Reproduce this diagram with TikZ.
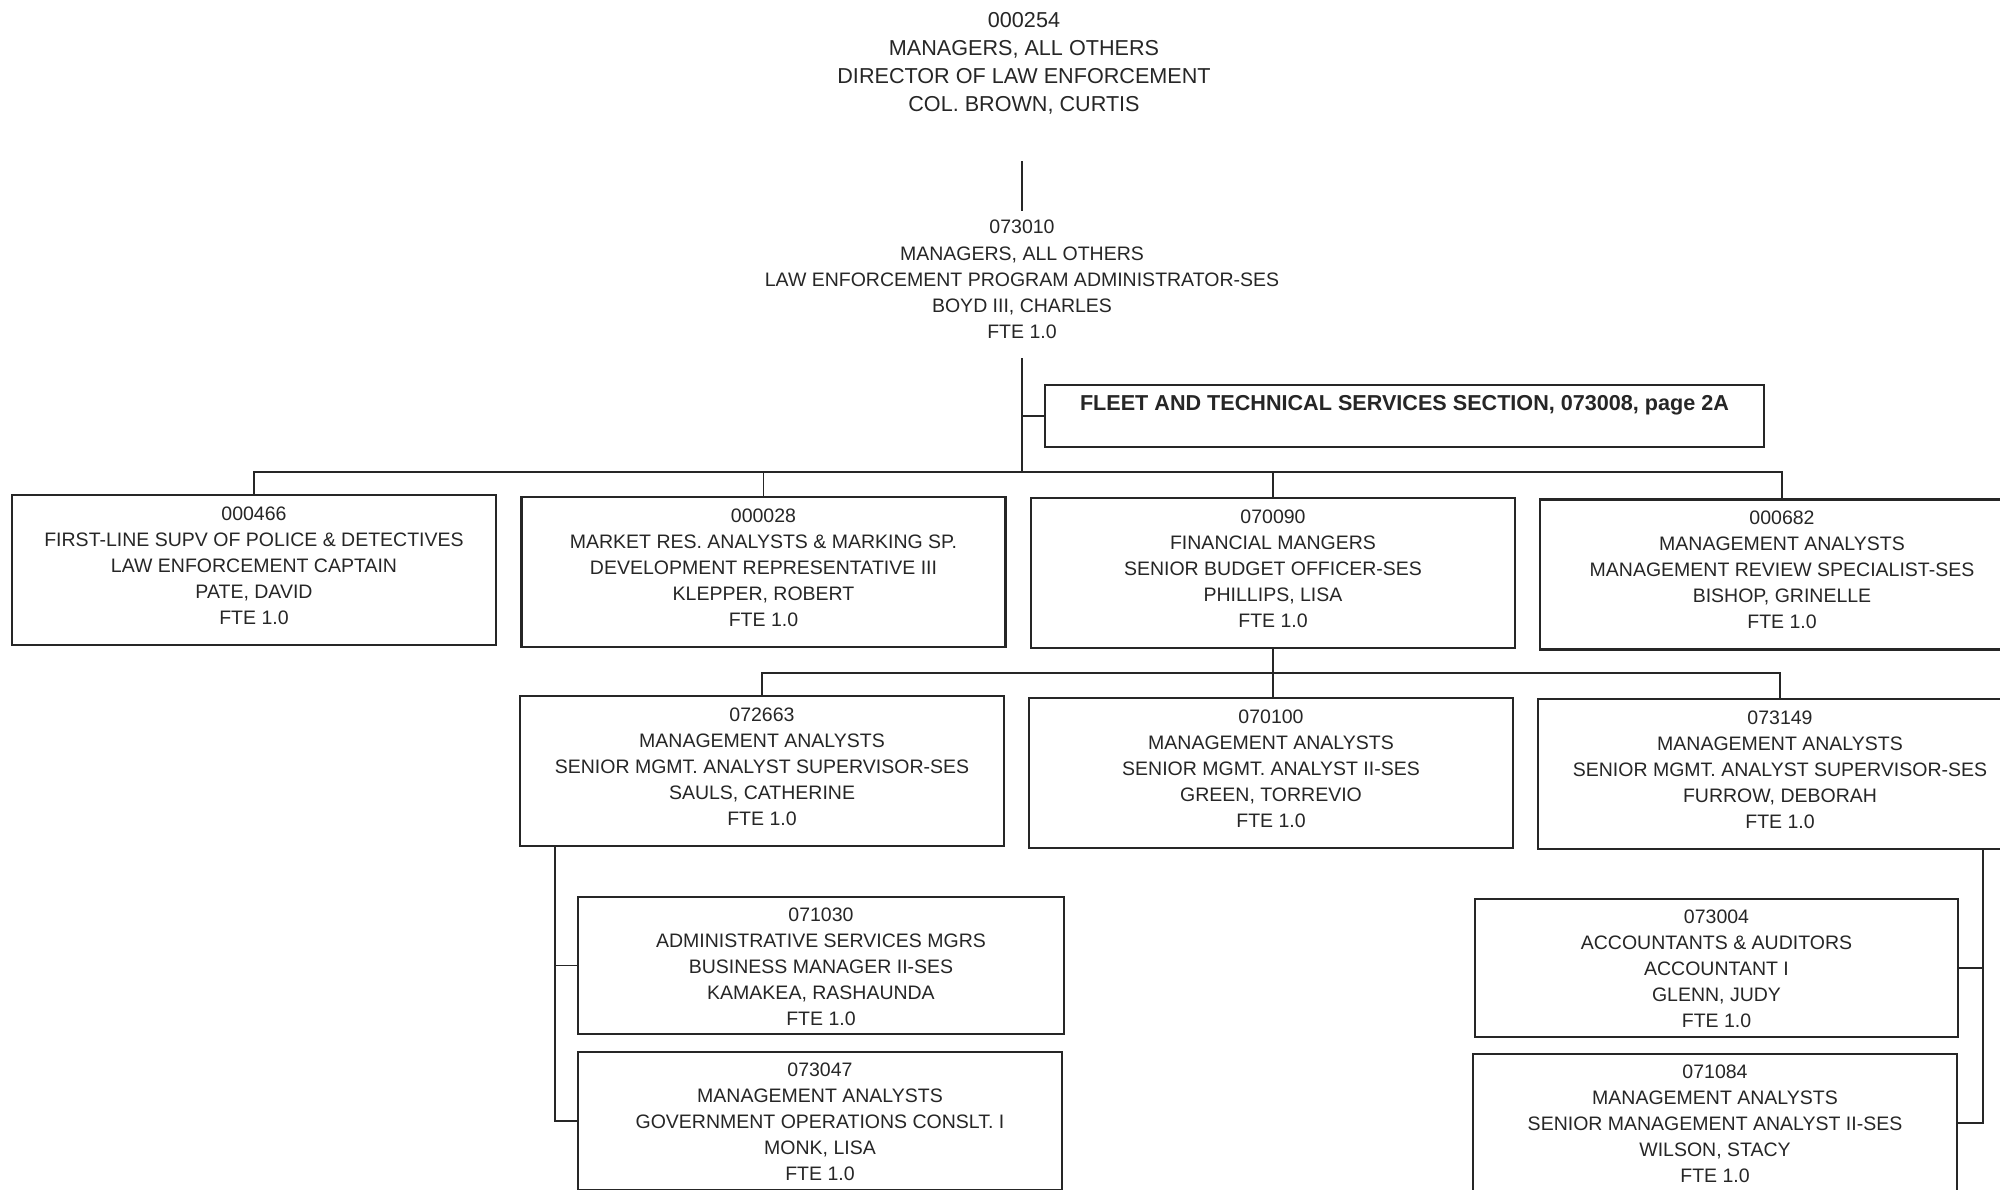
\documentclass[tikz,border=0pt]{standalone}
\usepackage{fontspec}
\setmainfont{Liberation Sans}
\usetikzlibrary{calc}
\definecolor{ink}{HTML}{262626}
% centred lines whose first baseline sits #1 below the top of a box #1+#2 tall
\newcommand\cardtext[3]{\raisebox{0pt}[#1][#2]{\begin{tabular}[t]{@{}c@{}}#3\end{tabular}}}
\begin{document}
\begin{tikzpicture}[x=1pt,y=-1pt,
  every node/.style={text=ink},
  posbox/.style={draw=ink, line width=2.2pt, inner sep=0pt,
    minimum width=484pt, minimum height=150pt,
    font=\fontsize{19.5}{26}\selectfont},
  lowbox/.style={posbox, minimum height=137pt},
  link/.style={draw=ink, line width=1.8pt},
  head/.style={inner sep=0pt, align=center}]
\fill[white] (0,0) rectangle (2000,1189);
\useasboundingbox (0,0) rectangle (2000,1189);
\clip (0,0) rectangle (2000,1189);

% chain of command at the top
\node[head, font=\fontsize{21.6}{28}\selectfont] (dir) at (1024,63)
  {000254\\MANAGERS, ALL OTHERS\\DIRECTOR OF LAW ENFORCEMENT\\COL. BROWN, CURTIS};
\node[head, font=\fontsize{19.5}{26.2}\selectfont] (adm) at (1022,279.5)
  {073010\\MANAGERS, ALL OTHERS\\LAW ENFORCEMENT PROGRAM ADMINISTRATOR-SES\\BOYD III, CHARLES\\FTE 1.0};

% reference to the section on the other page
\node[draw=ink, line width=2.2pt, inner sep=0pt, minimum width=719pt,
      text height=25pt, text depth=37pt,
      font=\bfseries\fontsize{21.6}{26}\selectfont] (fleet) at (1404.5,416)
  {FLEET AND TECHNICAL SERVICES SECTION, 073008, page 2A};

% first row of positions
\node[posbox] (b1) at (254,570)
  {\cardtext{25pt}{125pt}{000466\\FIRST-LINE SUPV OF POLICE \& DETECTIVES\\LAW ENFORCEMENT CAPTAIN\\PATE, DAVID\\FTE 1.0}};
\node[posbox] (b2) at (763.5,572)
  {\cardtext{25pt}{125pt}{000028\\MARKET RES. ANALYSTS \& MARKING SP.\\DEVELOPMENT REPRESENTATIVE III\\KLEPPER, ROBERT\\FTE 1.0}};
\node[posbox] (b3) at (1273,573)
  {\cardtext{25pt}{125pt}{070090\\FINANCIAL MANGERS\\SENIOR BUDGET OFFICER-SES\\PHILLIPS, LISA\\FTE 1.0}};
\node[posbox] (b4) at (1782,574.5)
  {\cardtext{25pt}{125pt}{000682\\MANAGEMENT ANALYSTS\\MANAGEMENT REVIEW SPECIALIST-SES\\BISHOP, GRINELLE\\FTE 1.0}};

% second row
\node[posbox] (c1) at (762,771)
  {\cardtext{25pt}{125pt}{072663\\MANAGEMENT ANALYSTS\\SENIOR MGMT. ANALYST SUPERVISOR-SES\\SAULS, CATHERINE\\FTE 1.0}};
\node[posbox] (c2) at (1271,773)
  {\cardtext{25pt}{125pt}{070100\\MANAGEMENT ANALYSTS\\SENIOR MGMT. ANALYST II-SES\\GREEN, TORREVIO\\FTE 1.0}};
\node[posbox] (c3) at (1780,774)
  {\cardtext{25pt}{125pt}{073149\\MANAGEMENT ANALYSTS\\SENIOR MGMT. ANALYST SUPERVISOR-SES\\FURROW, DEBORAH\\FTE 1.0}};

% staff under the two supervisors
\node[lowbox, minimum width=486pt] (d1) at (821,965.5)
  {\cardtext{24pt}{113pt}{071030\\ADMINISTRATIVE SERVICES MGRS\\BUSINESS MANAGER II-SES\\KAMAKEA, RASHAUNDA\\FTE 1.0}};
\node[lowbox, minimum height=138pt] (d2) at (820,1121)
  {\cardtext{24pt}{114pt}{073047\\MANAGEMENT ANALYSTS\\GOVERNMENT OPERATIONS CONSLT. I\\MONK, LISA\\FTE 1.0}};
\node[lowbox, minimum width=483pt, minimum height=138pt] (e1) at (1716.5,968)
  {\cardtext{24pt}{114pt}{073004\\ACCOUNTANTS \& AUDITORS\\ACCOUNTANT I\\GLENN, JUDY\\FTE 1.0}};
\node[lowbox, minimum height=138pt] (e2) at (1715,1123)
  {\cardtext{24pt}{114pt}{071084\\MANAGEMENT ANALYSTS\\SENIOR MANAGEMENT ANALYST II-SES\\WILSON, STACY\\FTE 1.0}};

% connectors
\draw[link, shorten <=47pt, shorten >=9pt] (adm.north |- dir.south) -- (adm.north);
\coordinate (busA) at ($(b1.north)+(0,-22)$);
\draw[link, shorten <=19pt] (adm.south) -- (adm.south |- busA);
\draw[link] (fleet.west) -- (fleet.west -| adm.south);
\draw[link] (b1.north) -- (busA) -| (b4.north);
\draw[link] (b2.north) -- (b2.north |- busA);
\draw[link] (b3.north) -- (b3.north |- busA);

\coordinate (busC) at ($(c1.north)+(0,-22)$);
\draw[link] (b3.south) -- (b3.south |- c2.north);
\draw[link] (c1.north) -- (busC) -| (c3.north);

\coordinate (dropD) at ($(c1.south west)+(36,0)$);
\draw[link] (dropD) |- (d2.west);
\draw[link] (d1.west) -- (d1.west -| dropD);

\coordinate (dropE) at ($(c3.south east)+(-40,0)$);
\draw[link] (dropE) |- (e2.east);
\draw[link] (e1.east) -- (e1.east -| dropE);
\end{tikzpicture}
\end{document}
